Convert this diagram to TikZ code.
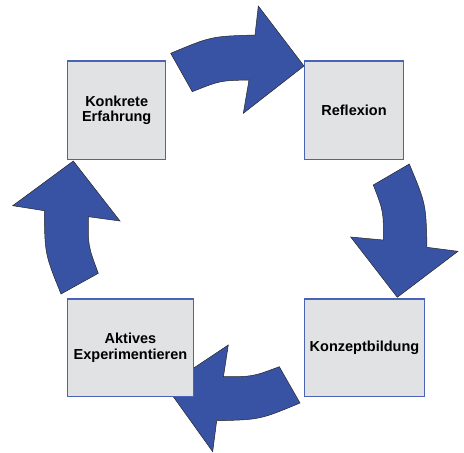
\documentclass[tikz,border=0pt]{standalone}
\usepackage{fontspec}
\setmainfont{Liberation Sans}
\definecolor{arrowblue}{RGB}{57,83,164}
\definecolor{boxblue}{RGB}{74,99,181}
\definecolor{boxgray}{RGB}{225,226,228}
\begin{document}
\begin{tikzpicture}[x=1pt,y=-1pt,
  stagebox/.style={draw=boxblue,line width=1.4pt,fill=boxgray,rectangle,inner sep=0pt,
    align=center,font=\fontsize{14.5}{15.5}\selectfont\bfseries},
  cyclearrow/.style={fill=arrowblue,draw=black!85,line width=0.5pt,line join=miter}]
\useasboundingbox (0,0) rectangle (464,453);
% arrows
\draw[cyclearrow] (170.7,53.3) .. controls (211.2,36.3) .. (255,35) -- (258.3,6) -- (304,66) -- (243.3,113.3) -- (249,80) .. controls (220.1,80.6) .. (192.3,91.7) -- cycle;
\draw[cyclearrow] (409.3,164) .. controls (426.0,204.0) .. (427,247.3) -- (458,251.3) -- (397.3,297.3) -- (350.7,237) -- (383.3,240) .. controls (383.5,211.5) .. (373.3,185) -- cycle;
\draw[cyclearrow] (300,403) .. controls (260.0,419.7) .. (216.7,420.7) -- (212.7,451.7) -- (166,386.5) -- (228.3,345) -- (223.5,376.5) .. controls (252.3,376.8) .. (279.3,366.7) -- cycle;
\draw[cyclearrow] (61,294) .. controls (44.8,253.9) .. (44.3,210.7) -- (12.7,205.7) -- (73.3,161) -- (120,221) -- (88.3,216.7) .. controls (88.1,245.9) .. (98.3,273.3) -- cycle;
% boxes
\node[stagebox,minimum width=98pt,minimum height=98.3pt] (ke) at (116.7,110.2) {Konkrete\\Erfahrung};
\node[stagebox,minimum width=98.6pt,minimum height=98.3pt] (re) at (354,110.2) {Reflexion};
\node[stagebox,minimum width=125.6pt,minimum height=97.7pt] (ae) at (130.5,347.9) {Aktives\\Experimentieren};
\node[stagebox,minimum width=119.6pt,minimum height=97.7pt] (kb) at (364.5,347.9) {Konzeptbildung};
\end{tikzpicture}
\end{document}
